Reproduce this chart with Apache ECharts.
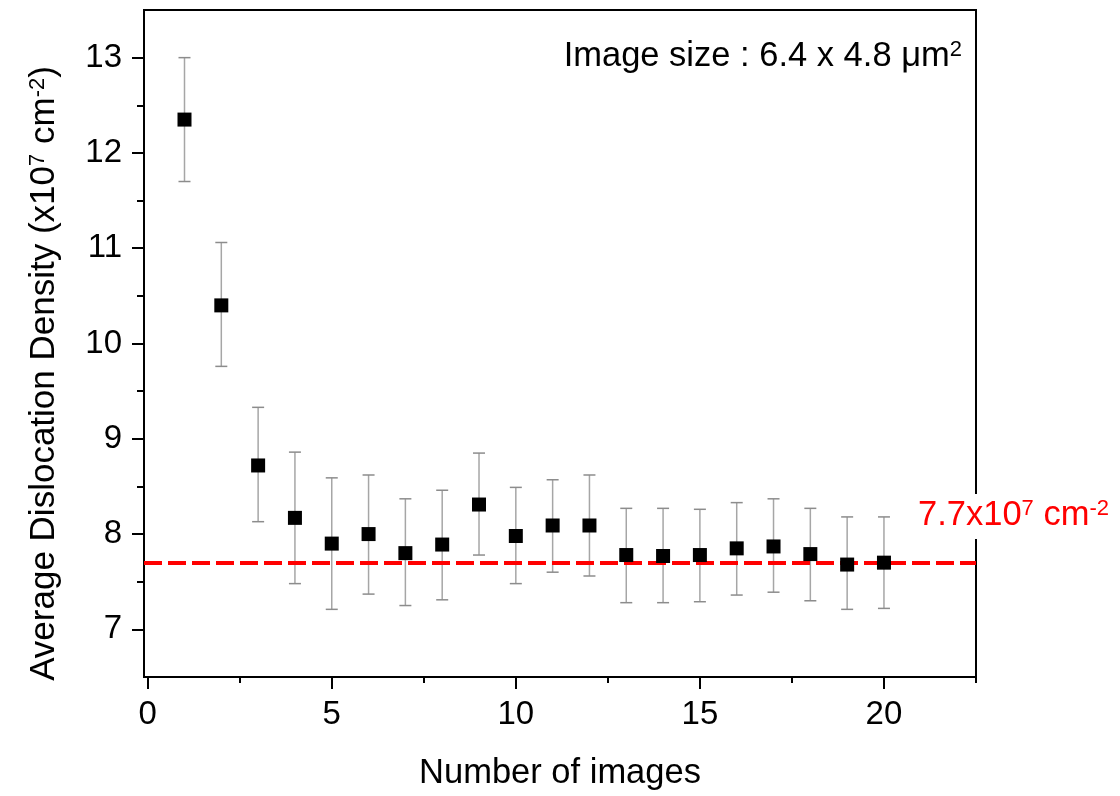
<!DOCTYPE html>
<html>
<head>
<meta charset="utf-8">
<script src="https://cdn.jsdelivr.net/npm/echarts@6/dist/echarts.min.js"></script>
<style>
html,body{margin:0;padding:0;background:#fff;}
#chart{width:1120px;height:796px;}
</style>
</head>
<body>
<div id="chart"></div>
<script>
// ---- data ----
const imageCounts = [1,2,3,4,5,6,7,8,9,10,11,12,13,14,15,16,17,18,19,20];
const meanDensity = [12.35,10.40,8.72,8.17,7.90,8.00,7.80,7.89,8.31,7.98,8.09,8.09,7.78,7.77,7.78,7.85,7.87,7.79,7.68,7.70];
const upperBound  = [13.00,11.06,9.33,8.86,8.59,8.62,8.37,8.46,8.85,8.49,8.57,8.62,8.27,8.27,8.26,8.33,8.37,8.27,8.18,8.18];
const lowerBound  = [11.70,9.76,8.13,7.48,7.21,7.37,7.25,7.31,7.78,7.48,7.60,7.56,7.28,7.28,7.29,7.36,7.39,7.30,7.21,7.22];
const referenceValue = 7.7;
const xMajorTicks = [0,5,10,15,20];
const xMinorTicks = [2.5,7.5,12.5,17.5,22.5];
const yMajorTicks = [7,8,9,10,11,12,13];
const yMinorTicks = [7.5,8.5,9.5,10.5,11.5,12.5];

const FONT = '"Liberation Sans", Arial, Helvetica, sans-serif';
const chart = echarts.init(document.getElementById('chart'), null, {renderer:'canvas'});

const X_MIN = -0.1, X_MAX = 22.5, Y_MIN = 6.5, Y_MAX = 13.5;

const option = {
  animation: false,
  backgroundColor: '#fff',
  grid: {left:144, right:144, top:10, bottom:117, show:true, borderColor:'#000', borderWidth:2, backgroundColor:'transparent'},
  xAxis: [
    {
      type:'value', min:X_MIN, max:X_MAX, position:'bottom',
      name:'Number of images', nameLocation:'middle', nameGap:79,
      nameTextStyle:{fontFamily:FONT, fontSize:34.5, color:'#000'},
      axisLine:{show:true, onZero:false, lineStyle:{color:'#000', width:2}},
      axisTick:{show:true, length:12, customValues:xMajorTicks, lineStyle:{color:'#000', width:2}},
      axisLabel:{show:true, customValues:xMajorTicks, margin:21, fontFamily:FONT, fontSize:33, color:'#000'},
      splitLine:{show:false}
    },
    {
      type:'value', min:X_MIN, max:X_MAX, position:'bottom', gridIndex:0,
      axisLine:{show:false, onZero:false},
      axisTick:{show:true, length:6, customValues:xMinorTicks, lineStyle:{color:'#000', width:2}},
      axisLabel:{show:false},
      splitLine:{show:false}
    }
  ],
  yAxis: [
    {
      type:'value', min:Y_MIN, max:Y_MAX, position:'left',
      name:'Average Dislocation Density (x10{sup|7} cm{sup|-2})',
      nameLocation:'middle', nameRotate:90, nameGap:82,
      nameTextStyle:{fontFamily:FONT, fontSize:35, color:'#000', padding:[0,60,0,0],
        rich:{sup:{fontFamily:FONT, fontSize:22, color:'#000', verticalAlign:'top'}}},
      axisLine:{show:true, onZero:false, lineStyle:{color:'#000', width:2}},
      axisTick:{show:true, length:12, customValues:yMajorTicks, lineStyle:{color:'#000', width:2}},
      axisLabel:{show:true, customValues:yMajorTicks, margin:22, fontFamily:FONT, fontSize:33, color:'#000'},
      splitLine:{show:false}
    },
    {
      type:'value', min:Y_MIN, max:Y_MAX, position:'left',
      axisLine:{show:false, onZero:false},
      axisTick:{show:true, length:7, customValues:yMinorTicks, lineStyle:{color:'#000', width:2}},
      axisLabel:{show:false},
      splitLine:{show:false}
    }
  ],
  series: [
    {
      type:'line', data:[], xAxisIndex:0, yAxisIndex:0, z:2, silent:true,
      markLine:{
        silent:true, symbol:['none','none'], label:{show:false},
        lineStyle:{color:'#ff0000', width:4, type:[18,6], opacity:1},
        data:[{yAxis:referenceValue}]
      }
    },
    {
      type:'custom', xAxisIndex:0, yAxisIndex:0, z:3, silent:true,
      data: imageCounts.map((x,i)=>[x, lowerBound[i], upperBound[i]]),
      encode:{x:0, y:[1,2]},
      renderItem: function(params, api){
        const x = api.value(0);
        const top = api.coord([x, api.value(2)]);
        const bot = api.coord([x, api.value(1)]);
        const hw = 6;
        return {type:'group', children:[
          {type:'line', shape:{x1:top[0], y1:top[1], x2:bot[0], y2:bot[1]}, style:{stroke:'#a6a6a6', lineWidth:1.5}},
          {type:'line', shape:{x1:top[0]-hw, y1:top[1], x2:top[0]+hw, y2:top[1]}, style:{stroke:'#8c8c8c', lineWidth:1.5}},
          {type:'line', shape:{x1:bot[0]-hw, y1:bot[1], x2:bot[0]+hw, y2:bot[1]}, style:{stroke:'#8c8c8c', lineWidth:1.5}}
        ]};
      }
    },
    {
      type:'scatter', xAxisIndex:0, yAxisIndex:0, z:5, silent:true,
      symbol:'rect', symbolSize:14,
      itemStyle:{color:'#000', opacity:1},
      data: imageCounts.map((x,i)=>[x, meanDensity[i]])
    }
  ],
  graphic: [
    {
      type:'text', right:158, top:39, z:100,
      style:{
        text:'Image size : 6.4 x 4.8 μm{sup|2}',
        fontFamily:FONT, fontSize:34.5, fill:'#000',
        rich:{sup:{fontFamily:FONT, fontSize:22, fill:'#000', verticalAlign:'top'}}
      }
    },
    {
      type:'text', left:914, top:494, z:100,
      style:{
        text:'7.7x10{sup|7} cm{sup|-2}',
        fontFamily:FONT, fontSize:34.5, fill:'#ff0000',
        backgroundColor:'#fff', padding:[4,2,6,4],
        rich:{sup:{fontFamily:FONT, fontSize:22, fill:'#ff0000', verticalAlign:'top'}}
      }
    }
  ]
};
chart.setOption(option);
</script>
</body>
</html>
